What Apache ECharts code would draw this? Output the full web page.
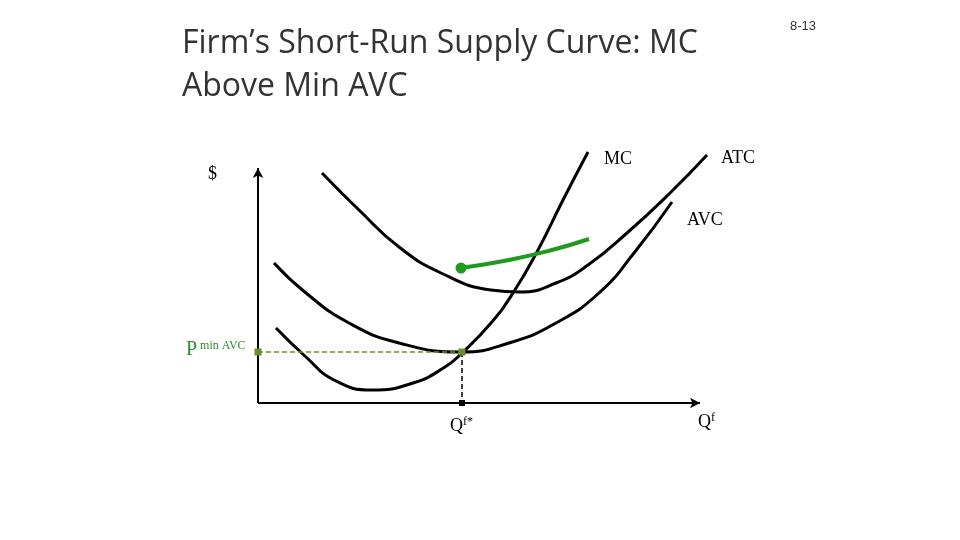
<!DOCTYPE html>
<html><head><meta charset="utf-8">
<script src="https://cdn.jsdelivr.net/npm/echarts@6/dist/echarts.min.js"></script>
<style>html,body{margin:0;padding:0;background:#fff}#c{width:960px;height:540px}</style>
</head><body><div id="c"></div>
<script>
// Quantity (x) and $ (y) readings
const mc  = [[18,75],[48,46],[76,23],[114,13],[155,20],[187,36],[204,50],[233,80],[255,110],[280,153],[305,203],[330,251]];
const avc = [[16,140],[48,110],[91,80],[141,60],[204,51],[251,60],[298,80],[341,110],[376,150],[414,201]];
const atc = [[64,230],[101,193],[141,156],[183,130],[233,113],[262,111],[298,120],[330,138],[369,170],[412,210],[449,248]];
const supply = [[203,135],[251,143],[294,153],[331,164]];
const pMinAVC = 51, qStar = 204;
const xAxisLine = [[0,0],[442,0]];
const yAxisLine = [[0,0],[0,235]];

const chart = echarts.init(document.getElementById('c'));
const black = {color:'#000',width:3};
const serif = 'Liberation Serif';
chart.setOption({
  animation:false,
  grid:{left:258,right:240,top:140,bottom:137},
  xAxis:{type:'value',min:0,max:462,show:false},
  yAxis:{type:'value',min:0,max:263,show:false},
  series:[
    {type:'line',data:xAxisLine,symbol:'none',lineStyle:{color:'#000',width:2},z:1,
      markPoint:{symbol:'arrow',symbolSize:[8,10],symbolRotate:-90,itemStyle:{color:'#000'},label:{show:false},data:[{coord:[442,0]}]}},
    {type:'line',data:yAxisLine,symbol:'none',lineStyle:{color:'#000',width:2},z:1,
      markPoint:{symbol:'arrow',symbolSize:[8,10],itemStyle:{color:'#000'},label:{show:false},data:[{coord:[0,235]}]}},
    {type:'line',data:mc,smooth:true,symbol:'none',lineStyle:black},
    {type:'line',data:avc,smooth:true,symbol:'none',lineStyle:black},
    {type:'line',data:atc,smooth:true,symbol:'none',lineStyle:black},
    {type:'line',data:[[0,pMinAVC],[qStar,pMinAVC]],symbol:'rect',symbolSize:7,itemStyle:{color:'#6b8e23'},lineStyle:{color:'#6b8e23',width:1.5,type:[5,3]},z:3},
    {type:'line',data:[[qStar,pMinAVC],[qStar,0]],symbol:'rect',symbolSize:6,itemStyle:{color:'#000'},lineStyle:{color:'#000',width:1.5,type:[5,3]},z:2},
    {type:'line',data:supply,smooth:true,symbol:'none',lineStyle:{color:'#1f9a1f',width:4},z:4,
      markPoint:{symbol:'circle',symbolSize:11,itemStyle:{color:'#1f9a1f'},label:{show:false},data:[{coord:supply[0]}]}}
  ],
  graphic:[
    {type:'text',left:182,top:22,style:{text:'Firm’s Short-Run Supply Curve: MC\nAbove Min AVC',font:'32px "Open Sans"',fill:'#333',lineHeight:43}},
    {type:'text',left:790,top:20,style:{text:'8-13',font:'13px "Liberation Sans"',fill:'#333'}},
    {type:'text',left:208,top:165,style:{text:'$',font:'18px '+serif,fill:'#000'}},
    {type:'text',left:604,top:150,style:{text:'MC',font:'18px '+serif,fill:'#000'}},
    {type:'text',left:721,top:149,style:{text:'ATC',font:'18px '+serif,fill:'#000'}},
    {type:'text',left:687,top:211,style:{text:'AVC',font:'18px '+serif,fill:'#000'}},
    {type:'text',left:450,top:416,style:{text:'{a|Q}{b|f*}',rich:{a:{font:'18px '+serif,fill:'#000'},b:{font:'12px '+serif,fill:'#000',verticalAlign:'top',padding:[0,0,8,0]}}}},
    {type:'text',left:698,top:412,style:{text:'{a|Q}{b|f}',rich:{a:{font:'18px '+serif,fill:'#000'},b:{font:'12px '+serif,fill:'#000',padding:[0,0,8,0]}}}},
    {type:'text',left:186,top:340,style:{text:'{a|P}{b| min AVC}',rich:{a:{font:'20px '+serif,fill:'#2e8b2e'},b:{font:'12px '+serif,fill:'#2e8b2e',padding:[0,0,8,0]}}}}
  ]
});
</script></body></html>
